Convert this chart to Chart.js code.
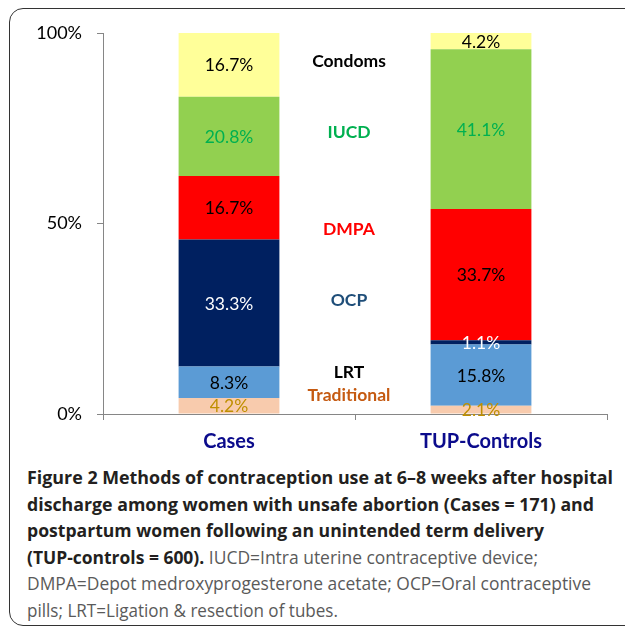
<!DOCTYPE html>
<html>
<head>
<meta charset="utf-8">
<script src="https://cdn.jsdelivr.net/npm/chart.js@4/dist/chart.umd.min.js"></script>
<style>
  html, body { margin: 0; padding: 0; background: #fff; width: 625px; height: 627px; overflow: hidden; }
  #frame { position: absolute; left: 9px; top: 8px; width: 700px; height: 618px; box-sizing: border-box;
           border: 1.6px solid #333; border-radius: 14px; }
  #chartBox { position: absolute; left: 0; top: 0; width: 625px; height: 460px; }
  .cap { position: absolute; left: 27px; white-space: nowrap; transform-origin: 0 50%;
         font-family: "Open Sans", "Noto Sans", sans-serif; font-size: 18.5px; line-height: 26px; }
  .cap b { color: #231f20; font-weight: 700; }
  .cap span { color: #5a5a5a; font-weight: 400; }
</style>
</head>
<body>
<div id="frame"></div>
<div id="chartBox"><canvas id="c" width="625" height="460"></canvas></div>
<div class="cap" data-w="586" style="top:464px"><b>Figure 2 Methods of contraception use at 6–8 weeks after hospital</b></div>
<div class="cap" data-w="567" style="top:490.5px"><b>discharge among women with unsafe abortion (Cases = 171) and</b></div>
<div class="cap" data-w="517" style="top:517px"><b>postpartum women following an unintended term delivery</b></div>
<div class="cap" data-w="511" style="top:543.5px"><b>(TUP-controls = 600).</b> <span>IUCD=Intra uterine contraceptive device;</span></div>
<div class="cap" data-w="564" style="top:570px"><span>DMPA=Depot medroxyprogesterone acetate; OCP=Oral contraceptive</span></div>
<div class="cap" data-w="311" style="top:596.5px"><span>pills; LRT=Ligation &amp; resection of tubes.</span></div>
<script>
// ---- data ----
const categories = ['Cases', 'TUP-Controls'];
const methods = ['Traditional', 'LRT', 'OCP', 'DMPA', 'IUCD', 'Condoms'];
const traditional = [4.2, 2.1];
const lrt = [8.3, 15.8];
const ocp = [33.3, 1.1];
const dmpa = [16.7, 33.7];
const iucd = [20.8, 41.1];
const condoms = [16.7, 4.2];
const yTickValues = [0, 50, 100];

// ---- styles ----
const fillColors = ['#F8CBAD', '#5B9BD5', '#002060', '#FF0000', '#92D050', '#FFFF99'];
const valueColors = ['#BF8F00', '#000000', '#FFFFFF', '#000000', '#00B050', '#000000'];
const nameColors = ['#C55A11', '#000000', '#1F4E79', '#FF0000', '#00B050', '#000000'];
const nameLevels = [4.9, 10.8, 29.7, 48.5, 73.8, 92.5];

const raw = [traditional, lrt, ocp, dmpa, iucd, condoms];
const totals = categories.map((_, i) => raw.reduce((s, a) => s + a[i], 0));

const datasets = raw.map((arr, k) => ({
  label: methods[k],
  data: arr.map((v, i) => v / totals[i] * 100),
  rawValues: arr,
  backgroundColor: fillColors[k],
  borderWidth: 0,
  categoryPercentage: 1.0,
  barPercentage: 0.4
}));

const labelPlugin = {
  id: 'labels',
  afterDatasetsDraw(chart) {
    const ctx = chart.ctx;
    ctx.save();
    ctx.textAlign = 'center';
    ctx.textBaseline = 'middle';
    ctx.font = '17.5px Lato, "Open Sans", sans-serif';
    chart.data.datasets.forEach((ds, k) => {
      const meta = chart.getDatasetMeta(k);
      meta.data.forEach((bar, i) => {
        ctx.fillStyle = valueColors[k];
        const y = (bar.y + bar.base) / 2;
        ctx.fillText(ds.rawValues[i].toFixed(1) + '%', bar.x, y + 1);
      });
    });
    // series names between bars
    const xs = chart.scales.x, ys = chart.scales.y;
    const xm = (xs.getPixelForValue(0) + xs.getPixelForValue(1)) / 2 - 6;
    ctx.font = 'bold 17.5px Lato, "Open Sans", sans-serif';
    methods.forEach((m, k) => {
      ctx.fillStyle = nameColors[k];
      ctx.fillText(m, xm, ys.getPixelForValue(nameLevels[k]));
    });
    ctx.restore();
  }
};

new Chart(document.getElementById('c'), {
  type: 'bar',
  data: { labels: categories, datasets },
  options: {
    responsive: false,
    animation: false,
    devicePixelRatio: 1,
    layout: { padding: { left: 0, right: 18, top: 33, bottom: 0 } },
    plugins: { legend: { display: false }, tooltip: { enabled: false } },
    scales: {
      x: {
        stacked: true,
        grid: { display: true, drawOnChartArea: false, drawTicks: true, tickLength: 6, tickColor: '#868686', offset: true },
        border: { display: true, color: '#868686', width: 1 },
        ticks: { color: '#0B0B8C', font: { family: 'Lato, "Open Sans", sans-serif', size: 20, weight: 'bold' }, padding: 10 },
        afterFit(s) { s.height = 46; }
      },
      y: {
        stacked: true,
        min: 0, max: 100,
        afterBuildTicks(s) { s.ticks = yTickValues.map(v => ({ value: v })); },
        grid: { display: true, drawOnChartArea: false, drawTicks: true, tickLength: 6, tickColor: '#868686' },
        border: { display: true, color: '#868686', width: 1 },
        ticks: { color: '#000', font: { family: 'Lato, "Open Sans", sans-serif', size: 18 }, padding: 15,
                 callback: v => v + '%' },
        afterFit(s) { s.width = 103; }
      }
    }
  },
  plugins: [labelPlugin]
});

// fit caption lines to their widths
document.querySelectorAll('.cap').forEach(el => {
  const w = el.getBoundingClientRect().width;
  const target = parseFloat(el.dataset.w);
  el.style.transform = 'scaleX(' + (target / w) + ')';
});
</script>
</body>
</html>
